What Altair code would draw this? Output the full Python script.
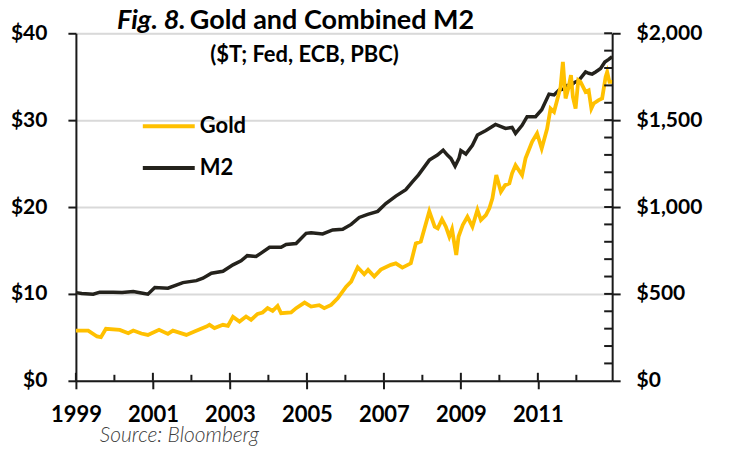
import altair as alt
import pandas as pd

# ---- data ----
m2_year = [1999.00, 1999.15, 1999.45, 1999.62, 1999.97, 2000.20, 2000.49, 2000.70, 2000.87,
           2001.05, 2001.39, 2001.78, 2002.13, 2002.30, 2002.52, 2002.82, 2003.08, 2003.29,
           2003.45, 2003.68, 2003.81, 2004.03, 2004.33, 2004.46, 2004.72, 2004.98, 2005.11,
           2005.41, 2005.67, 2005.93, 2006.15, 2006.36, 2006.58, 2006.84, 2007.05, 2007.31,
           2007.57, 2007.74, 2007.90, 2008.18, 2008.39, 2008.54, 2008.65, 2008.74, 2008.85,
           2008.95, 2009.00, 2009.13, 2009.30, 2009.43, 2009.65, 2009.90, 2010.16, 2010.33,
           2010.42, 2010.59, 2010.72, 2010.94, 2011.10, 2011.29, 2011.42, 2011.55, 2011.68,
           2011.76, 2011.85, 2011.94, 2012.07, 2012.24, 2012.32, 2012.41, 2012.50, 2012.63,
           2012.74, 2012.84, 2012.93]
m2_trillions = [10.15, 10.05, 9.97, 10.2, 10.2, 10.15, 10.27, 10.1, 9.97,
                10.73, 10.65, 11.3, 11.53, 11.8, 12.38, 12.6, 13.35, 13.8,
                14.4, 14.3, 14.7, 15.37, 15.37, 15.7, 15.8, 16.97, 17.05,
                16.9, 17.36, 17.43, 18.0, 18.8, 19.15, 19.5, 20.4, 21.26,
                22.0, 22.9, 23.7, 25.4, 25.98, 26.55, 25.98, 25.6, 24.7,
                25.6, 26.5, 26.1, 27.1, 28.3, 28.8, 29.5, 29.04, 29.16,
                28.47, 29.4, 30.4, 30.4, 31.2, 33.0, 32.9, 33.45, 33.6,
                34.0, 34.0, 34.3, 34.6, 35.55, 35.4, 35.3, 35.55, 35.94,
                36.7, 37.0, 37.3]

gold_year = [1999.00, 1999.32, 1999.55, 1999.65, 1999.78, 2000.14, 2000.36, 2000.49, 2000.70,
             2000.87, 2001.16, 2001.39, 2001.52, 2001.87, 2002.08, 2002.39, 2002.47, 2002.60,
             2002.82, 2002.95, 2003.08, 2003.25, 2003.42, 2003.55, 2003.72, 2003.85, 2003.98,
             2004.11, 2004.24, 2004.33, 2004.59, 2004.72, 2004.94, 2005.11, 2005.32, 2005.45,
             2005.63, 2005.80, 2006.02, 2006.15, 2006.32, 2006.49, 2006.59, 2006.75, 2006.92,
             2007.18, 2007.31, 2007.48, 2007.70, 2007.83, 2007.96, 2008.18, 2008.32, 2008.40,
             2008.51, 2008.61, 2008.70, 2008.77, 2008.83, 2008.88, 2008.94, 2009.05, 2009.17,
             2009.30, 2009.43, 2009.52, 2009.65, 2009.74, 2009.82, 2009.92, 2010.04, 2010.15,
             2010.26, 2010.33, 2010.42, 2010.59, 2010.68, 2010.85, 2010.98, 2011.10, 2011.24,
             2011.33, 2011.42, 2011.50, 2011.59, 2011.65, 2011.72, 2011.80, 2011.86, 2011.91,
             2011.98, 2012.05, 2012.11, 2012.24, 2012.32, 2012.39, 2012.45, 2012.58, 2012.67,
             2012.76, 2012.80, 2012.86, 2012.93]
gold_usd = [289, 289, 255, 251, 299, 293, 274, 289, 272,
            264, 293, 270, 289, 264, 283, 312, 322, 303,
            322, 316, 368, 341, 370, 351, 385, 393, 418,
            402, 431, 389, 393, 418, 450, 427, 435, 418,
            437, 475, 542, 571, 653, 613, 638, 600, 640,
            667, 676, 651, 676, 791, 801, 975, 887, 877,
            929, 887, 830, 872, 791, 724, 830, 897, 944,
            887, 983, 925, 954, 993, 1050, 1184, 1088, 1126,
            1136, 1194, 1241, 1184, 1280, 1375, 1424, 1337, 1450,
            1567, 1548, 1615, 1691, 1835, 1625, 1691, 1759, 1634,
            1567, 1730, 1720, 1663, 1672, 1567, 1596, 1615, 1625,
            1749, 1777, 1720, 1720]

x_domain = [1999, 2012.93]
x_label_years = [1999, 2001, 2003, 2005, 2007, 2009, 2011]
x_minor_years = [2000, 2002, 2004, 2006, 2008, 2010, 2012]
left_ticks = [0, 10, 20, 30, 40]
right_ticks = [0, 500, 1000, 1500, 2000]
right_minor = [v for v in range(100, 2001, 100)]

title_fig = "Fig. 8."
title_main = "Gold and Combined M2"
subtitle = "($T; Fed, ECB, PBC)"
source = "Source: Bloomberg"
series_names = ["Gold", "M2"]

GOLD = "#FFC000"
BLACK = "#24221c"
AXIS = "#1a1a1a"
FONT = "Lato"
W, H = 537, 348

m2_df = pd.DataFrame({"Year": m2_year, "M2": m2_trillions})
gold_df = pd.DataFrame({"Year": gold_year, "Gold": gold_usd})
xmaj_df = pd.DataFrame({"Year": x_label_years})
xmin_df = pd.DataFrame({"Year": x_minor_years})
rmin_df = pd.DataFrame({"v": right_minor})

x_scale = alt.Scale(domain=x_domain, nice=False, zero=False)

axis_common = dict(
    domainColor=AXIS, domainWidth=2, tickColor=AXIS, tickWidth=2, tickSize=8,
    labelFont=FONT, labelFontWeight="bold", labelColor="black", title=None,
)

x_axis = alt.Axis(values=x_label_years, format="d", grid=False, labelPadding=16,
                  labelFlush=False, labelFontSize=22, orient="bottom", **axis_common)
X = alt.X("Year:Q", scale=x_scale, axis=x_axis)

m2_line = alt.Chart(m2_df).mark_line(color=BLACK, strokeWidth=3.5).encode(
    x=X,
    y=alt.Y("M2:Q", scale=alt.Scale(domain=[0, 40], nice=False),
            axis=alt.Axis(values=left_ticks, orient="left", grid=True, gridColor="#d9d9d9",
                          gridWidth=2, labelFontSize=21, labelPadding=21,
                          labelExpr="'$' + datum.value", **axis_common)),
)

gold_line = alt.Chart(gold_df).mark_line(color=GOLD, strokeWidth=3.8).encode(
    x=X,
    y=alt.Y("Gold:Q", scale=alt.Scale(domain=[0, 2000], nice=False),
            axis=alt.Axis(values=right_ticks, orient="right", grid=False,
                          labelFontSize=21, labelPadding=16,
                          labelExpr="'$' + format(datum.value, ',')", **axis_common)),
)

# inner halves of the axis ticks
x_major_in = alt.Chart(xmaj_df).mark_rule(color=AXIS, strokeWidth=2).encode(
    x=X, y=alt.value(H), y2=alt.value(H - 8))
x_minor_in = alt.Chart(xmin_df).mark_rule(color=AXIS, strokeWidth=2).encode(
    x=X, y=alt.value(H), y2=alt.value(H - 6))
r_minor_in = alt.Chart(rmin_df).mark_rule(color=AXIS, strokeWidth=2).encode(
    y=alt.Y("v:Q", scale=alt.Scale(domain=[0, 2000], nice=False), axis=None),
    x=alt.value(W), x2=alt.value(W - 8))


def text(txt, x, y, **kw):
    return alt.Chart(alt.Data(values=[{"t": txt}])).mark_text(font=FONT, **kw).encode(
        x=alt.value(x), y=alt.value(y), text="t:N")


def legend_line(color, y):
    return alt.Chart(alt.Data(values=[{"a": 1}])).mark_rule(color=color, strokeWidth=4).encode(
        x=alt.value(67), x2=alt.value(119), y=alt.value(y))


annotations = [
    text(title_fig, 110, -4, align="right", baseline="alphabetic", fontSize=27,
         fontWeight="bold", fontStyle="italic", color="black"),
    text(title_main, 114, -4, align="left", baseline="alphabetic", fontSize=27,
         fontWeight="bold", color="black"),
    text(subtitle, 229, 29, align="center", baseline="alphabetic", fontSize=22,
         fontWeight="bold", color="black"),
    legend_line(GOLD, 93),
    legend_line(BLACK, 135),
    text(series_names[0], 124, 93, align="left", baseline="middle", fontSize=22,
         fontWeight="bold", color="black"),
    text(series_names[1], 124, 135, align="left", baseline="middle", fontSize=22,
         fontWeight="bold", color="black"),
    text(source, 24, 409, align="left", baseline="alphabetic", fontSize=21,
         fontWeight=300, fontStyle="italic", color="#404040"),
]

chart = alt.layer(
    m2_line, gold_line, r_minor_in, x_major_in, x_minor_in, *annotations
).resolve_scale(y="independent").resolve_axis(y="independent").properties(
    width=W, height=H,
    autosize=alt.AutoSizeParams(type="none"),
    padding={"left": 68, "top": 25, "right": 110, "bottom": 67},
).configure_view(stroke=None).configure(background="white")

chart.save("out.html", embed_options={"renderer": "svg", "actions": False})
